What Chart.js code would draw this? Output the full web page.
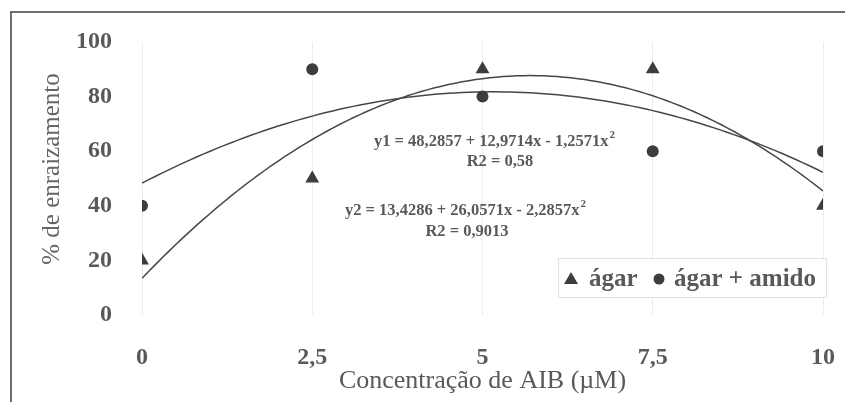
<!DOCTYPE html>
<html>
<head>
<meta charset="utf-8">
<script src="https://cdn.jsdelivr.net/npm/chart.js@4.4.1/dist/chart.umd.min.js"></script>
<style>
  html, body { margin: 0; padding: 0; background: #fff; }
  #wrap { position: relative; width: 845px; height: 402px; }
</style>
</head>
<body>
<div id="wrap"><canvas id="chart" width="845" height="402"></canvas></div>
<script>
// dados
const concentracoes = [0, 2.5, 5, 7.5, 10];
const xTickLabels = ["0", "2,5", "5", "7,5", "10"];
const yTickValues = [0, 20, 40, 60, 80, 100];
const agar = [20, 50, 90, 90, 40];
const agarAmido = [40, 90, 80, 60, 60];
// coeficientes das equações impressas (a + b x + c x²)
const coefAgar = [13.4286, 26.0571, -2.2857];
const coefAgarAmido = [48.2857, 12.9714, -1.2571];

const cinza = "#595959";
const marca = "#3d3d3d";
const serif = "'Liberation Serif', 'Times New Roman', serif";

function curva(coef) {
  const pts = [];
  for (let i = 0; i <= 100; i++) {
    const x = i / 10;
    pts.push({ x: x, y: coef[0] + coef[1] * x + coef[2] * x * x });
  }
  return pts;
}

function pontos(vals) {
  return concentracoes.map((x, i) => ({ x: x, y: vals[i] }));
}

// moldura, título do eixo y, equações e legenda
const extras = {
  id: "extras",
  beforeDraw(chart) {
    const ctx = chart.ctx;
    ctx.save();
    ctx.strokeStyle = "#6e6e6e";
    ctx.lineWidth = 2;
    ctx.beginPath();
    ctx.moveTo(11, 402);
    ctx.lineTo(11, 12);
    ctx.lineTo(845, 12);
    ctx.stroke();
    ctx.restore();
  },
  afterDraw(chart) {
    const ctx = chart.ctx;
    ctx.save();

    // titulo eixo y
    ctx.save();
    ctx.translate(52, 169);
    ctx.rotate(-Math.PI / 2);
    ctx.fillStyle = "#666";
    ctx.font = "25px " + serif;
    ctx.textAlign = "center";
    ctx.textBaseline = "middle";
    ctx.fillText("% de enraizamento", 0, 0);
    ctx.restore();

    ctx.fillStyle = cinza;
    ctx.textBaseline = "middle";

    function equacao(texto, cx, cy) {
      ctx.font = "bold 16.5px " + serif;
      const w = ctx.measureText(texto).width;
      ctx.font = "bold 11px " + serif;
      const ws = ctx.measureText("2").width;
      const x0 = cx - (w + ws) / 2;
      ctx.textAlign = "left";
      ctx.font = "bold 16.5px " + serif;
      ctx.fillText(texto, x0, cy);
      ctx.font = "bold 11px " + serif;
      ctx.fillText("2", x0 + w + 1, cy - 7);
    }
    function linha(texto, cx, cy) {
      ctx.font = "bold 16.5px " + serif;
      ctx.textAlign = "center";
      ctx.fillText(texto, cx, cy);
    }
    equacao("y1 = 48,2857 + 12,9714x - 1,2571x", 494, 142);
    linha("R2 = 0,58", 500, 162);
    equacao("y2 = 13,4286 + 26,0571x - 2,2857x", 465, 211);
    linha("R2 = 0,9013", 467, 232);

    // legenda
    ctx.fillStyle = "#fff";
    ctx.fillRect(558, 258, 268, 39);
    ctx.strokeStyle = "#e2e2e2";
    ctx.lineWidth = 1;
    ctx.strokeRect(558.5, 258.5, 268, 39);
    ctx.fillStyle = marca;
    ctx.beginPath();
    ctx.moveTo(571, 272);
    ctx.lineTo(578, 284);
    ctx.lineTo(564, 284);
    ctx.closePath();
    ctx.fill();
    ctx.beginPath();
    ctx.arc(659, 279, 5.5, 0, Math.PI * 2);
    ctx.fill();
    ctx.fillStyle = cinza;
    ctx.font = "bold 25px " + serif;
    ctx.textAlign = "left";
    ctx.textBaseline = "alphabetic";
    ctx.fillText("ágar", 589, 286);
    ctx.fillText("ágar + amido", 674, 286);
    ctx.restore();
  }
};

const ctx = document.getElementById("chart").getContext("2d");
new Chart(ctx, {
  type: "scatter",
  data: {
    datasets: [
      {
        label: "ágar",
        data: pontos(agar),
        pointStyle: "triangle",
        pointRadius: 8,
        backgroundColor: marca,
        borderColor: marca,
        borderWidth: 0,
      },
      {
        label: "ágar + amido",
        data: pontos(agarAmido),
        pointStyle: "circle",
        pointRadius: 6,
        backgroundColor: marca,
        borderColor: marca,
        borderWidth: 0,
      },
      {
        label: "y2",
        data: curva(coefAgar),
        showLine: true,
        pointRadius: 0,
        borderColor: "#474747",
        borderWidth: 1.5,
        fill: false,
      },
      {
        label: "y1",
        data: curva(coefAgarAmido),
        showLine: true,
        pointRadius: 0,
        borderColor: "#474747",
        borderWidth: 1.5,
        fill: false,
      },
    ],
  },
  options: {
    responsive: false,
    animation: false,
    layout: { padding: { top: 42, right: 22, left: 0, bottom: 0 } },
    plugins: {
      legend: { display: false },
      tooltip: { enabled: false },
    },
    scales: {
      x: {
        type: "linear",
        min: 0,
        max: 10,
        afterFit: (s) => { s.height = 87; s.paddingLeft = 0; s.paddingRight = 0; },
        afterBuildTicks: (s) => { s.ticks = concentracoes.map((v) => ({ value: v })); },
        grid: { color: "rgba(0,0,0,0.07)", drawTicks: false },
        border: { display: false },
        ticks: {
          padding: 28,
          color: cinza,
          font: { family: serif, size: 24, weight: "bold" },
          callback: (v, i) => xTickLabels[i],
        },
        title: {
          display: true,
          text: "Concentração de AIB (µM)",
          color: cinza,
          font: { family: serif, size: 26 },
          padding: { top: 5, bottom: 5 },
        },
      },
      y: {
        min: 0,
        max: 100,
        afterFit: (s) => { s.width = 142; s.paddingTop = 0; s.paddingBottom = 0; },
        afterBuildTicks: (s) => { s.ticks = yTickValues.map((v) => ({ value: v })); },
        grid: { display: false },
        border: { display: false },
        ticks: {
          padding: 22,
          color: cinza,
          font: { family: serif, size: 24, weight: "bold" },
        },
      },
    },
  },
  plugins: [extras],
});
</script>
</body>
</html>
